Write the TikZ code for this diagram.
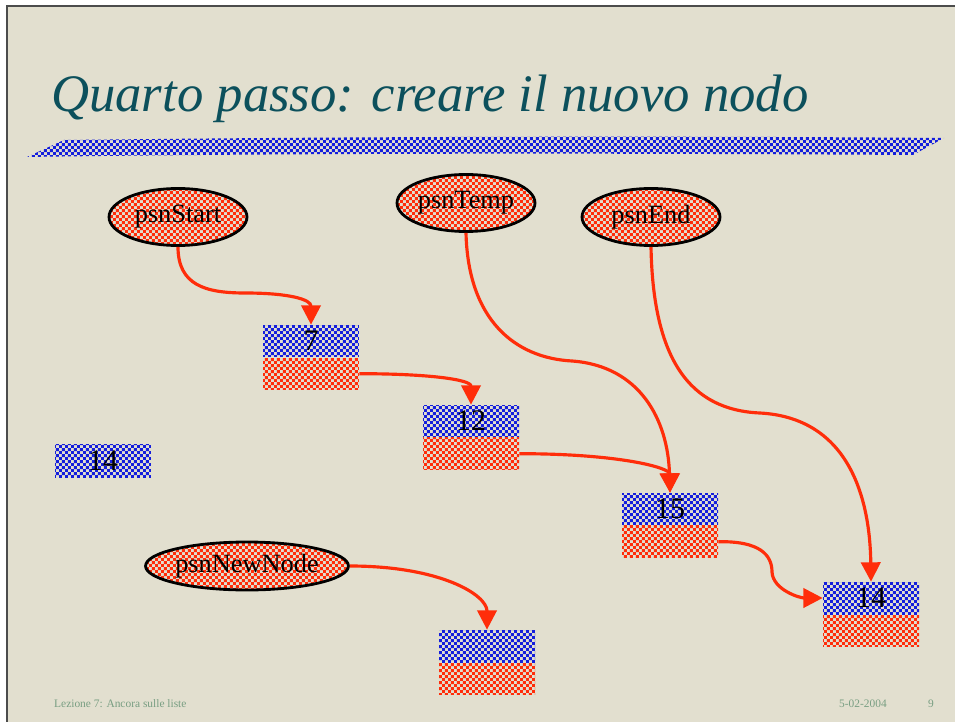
\documentclass[tikz,border=0pt]{standalone}
\usepackage{fontspec}
\setmainfont{Liberation Serif}
\usetikzlibrary{arrows.meta,shapes,patterns,positioning}

\definecolor{slidebg}{RGB}{226,223,207}
\definecolor{titleteal}{RGB}{12,80,92}
\definecolor{ptrred}{RGB}{255,45,10}
\definecolor{chkblue}{RGB}{20,30,220}
\definecolor{footgreen}{RGB}{120,158,130}

\pgfdeclarepatternformonly{finecheck}{\pgfqpoint{0pt}{0pt}}{\pgfqpoint{3.4pt}{3.4pt}}{\pgfqpoint{3.4pt}{3.4pt}}%
{\pgfpathrectangle{\pgfqpoint{0pt}{0pt}}{\pgfqpoint{1.7pt}{1.7pt}}%
 \pgfpathrectangle{\pgfqpoint{1.7pt}{1.7pt}}{\pgfqpoint{1.7pt}{1.7pt}}\pgfusepath{fill}}

\tikzset{
  ptr/.style={ellipse,draw=black,line width=1.6pt,fill=white!80!ptrred,
    pattern=finecheck,pattern color=ptrred,
    minimum width=2.76cm,minimum height=1.14cm,inner sep=0pt,font=\fontsize{15}{15}\selectfont},
  valbox/.style={rectangle,fill=white!75!chkblue,pattern=finecheck,pattern color=chkblue,
    minimum width=1.92cm,minimum height=0.64cm,inner sep=0pt,font=\fontsize{17}{17}\selectfont},
  nextbox/.style={rectangle,fill=white!80!ptrred,pattern=finecheck,pattern color=ptrred,
    minimum width=1.92cm,minimum height=0.64cm,inner sep=0pt},
  link/.style={draw=ptrred,line width=1.8pt,-{Triangle[length=11pt,width=11pt]}}
}

\begin{document}
\begin{tikzpicture}[x=0.02cm,y=-0.02cm]
\useasboundingbox[fill=white] (0,0) rectangle (955,722);
\fill[slidebg] (7,6) rectangle (955,722);
\draw[black!70,line width=1pt] (7,722) -- (7,6) -- (955,6);

% title
\node[anchor=base west,text=titleteal,font=\fontsize{30}{30}\selectfont\itshape] (title) at (45,112) {Quarto passo: creare il nuovo nodo};
\fill[fill=white!70!chkblue,pattern=finecheck,pattern color=chkblue]
  (27,157) -- (64,140) .. controls (400,136) and (700,136) .. (944,138) -- (913,155) .. controls (600,153) and (300,153) .. cycle;

% pointers
\node[ptr] (ps) at (178,217) {\raisebox{-2pt}{psnStart}};
\node[ptr] (pt) at (466,203) {\raisebox{-2pt}{psnTemp}};
\node[ptr] (pe) at (651,217) {\raisebox{-2pt}{psnEnd}};
\node[ptr,minimum width=3.88cm,minimum height=0.96cm] (pn) at (247,566) {\raisebox{-1pt}{psnNewNode}};

% list nodes
\node[valbox] (n7) at (311,341) {7};
\node[nextbox,below=0pt of n7] (n7p) {};
\node[valbox] (n12) at (471,421) {12};
\node[nextbox,below=0pt of n12] (n12p) {};
\node[valbox] (n15) at (670,509) {15};
\node[nextbox,below=0pt of n15] (n15p) {};
\node[valbox] (n14) at (871,598) {14};
\node[nextbox,below=0pt of n14] (n14p) {};
\node[valbox] (nv) at (487,646) {};
\node[nextbox,below=0pt of nv] (nvp) {};
\node[valbox,minimum height=0.66cm] (val) at (103,461) {14};

% links
\draw[link] (ps.south) .. controls +(0,38) and +(-40,0) .. (245,293) .. controls +(45,0) and +(0,-25) .. (n7.north);
\draw[link] (n7p.east) .. controls +(70,0) and +(0,-25) .. (n12.north);
\draw[link] (n12p.east) .. controls +(100,0) and +(0,-25) .. (n15.north);
\draw[link] (pt.south) .. controls (468,320) and (515,358) .. (572,361) .. controls (640,366) and (668,420) .. (n15.north);
\draw[link] (pe.south) .. controls (653,360) and (690,410) .. (760,413) .. controls (850,418) and (870,500) .. (n14.north);
\draw[link] (n15p.east) .. controls (760,541) and (772,555) .. (772,572) .. controls (773,590) and (800,598) .. (n14.west);
\draw[link] (pn.east) .. controls +(90,0) and +(0,-35) .. (nv.north);

% footer
\node[anchor=base west,text=footgreen,font=\fontsize{6.5}{7}\selectfont] (foot) at (48,707) {Lezione 7: Ancora sulle liste};
\node[anchor=base east,text=footgreen,font=\fontsize{6.5}{7}\selectfont] (date) at (893,707) {5-02-2004};
\node[anchor=base,text=footgreen,font=\fontsize{6.5}{7}\selectfont] (page) at (931,707) {9};
\end{tikzpicture}
\end{document}
